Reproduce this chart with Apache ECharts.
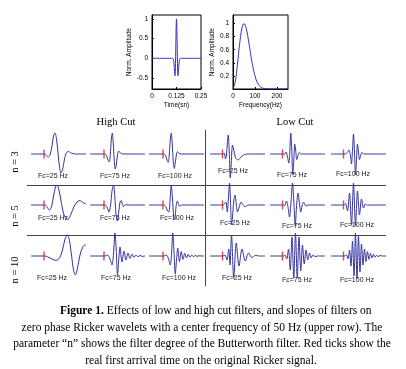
<!DOCTYPE html>
<html>
<head>
<meta charset="utf-8">
<script src="https://cdn.jsdelivr.net/npm/echarts@6/dist/echarts.min.js"></script>
<style>
html, body { margin: 0; padding: 0; background: #fff; }
#chart { width: 406px; height: 369px; }
</style>
</head>
<body>
<div id="chart"></div>
<script>
// upper row: the 50 Hz Ricker wavelet and its amplitude spectrum
var rickerTime = [0, 0.1, 0.105, 0.11, 0.1125, 0.115, 0.1172, 0.1188, 0.12, 0.1213, 0.1225, 0.1238, 0.125,
  0.1263, 0.1275, 0.1288, 0.13, 0.1312, 0.1328, 0.135, 0.1375, 0.14, 0.145, 0.15, 0.25];
var rickerAmp = [0, 0, -0.001, -0.039, -0.142, -0.333, -0.446, -0.348, -0.126, 0.231, 0.593, 0.897, 1,
  0.897, 0.593, 0.231, -0.126, -0.348, -0.446, -0.333, -0.142, -0.039, -0.001, 0, 0];
var specFreq = [0, 10, 20, 30, 40, 50, 60, 70, 80, 90, 100, 110, 120, 130, 140, 150, 170, 200, 250];
var specAmp = [0, 0.104, 0.37, 0.683, 0.917, 1, 0.927, 0.75, 0.538, 0.345, 0.199, 0.104, 0.049, 0.021, 0.008, 0.003, 0.0003, 0, 0];
var timeTicks = [0, 0.125, 0.25];
var ampTicks = [-0.5, 0, 0.5, 1];
var freqTicks = [0, 100, 200];
var specTicks = [0.2, 0.4, 0.6, 0.8, 1];

// filtered wavelets, [time ms, amplitude]; n = 3
var hc3_25 = [[0,0],[28,0],[31,-0.08],[34,-0.15],[38,-0.05],[42,0.4],[45,0.9],[48,1.05],[51,0.75],[54,0.05],[57,-0.65],[60,-0.95],[63,-0.8],[67,-0.25],[71,0.08],[75,0.12],[81,0.04],[90,0],[110,0]];
var hc3_75 = [[0,0],[30,0],[33,-0.08],[36,-0.3],[38.5,-0.4],[40.5,-0.05],[42.5,0.7],[44.5,1.05],[46.5,0.55],[48.5,-0.3],[50.5,-0.75],[52.5,-0.55],[55,-0.05],[57.5,0.15],[61,0.05],[66,0],[110,0]];
var hc3_100 = [[0,0],[30,0],[33,-0.08],[36,-0.3],[38.5,-0.42],[40.5,-0.05],[42.5,0.7],[44.5,1.05],[46.5,0.5],[48.5,-0.35],[50.5,-0.72],[52.5,-0.45],[55,0],[57,0.12],[60,0.03],[64,0],[110,0]];
var lc3_25 = [[0,0],[26,0],[28.5,0.04],[31,-0.25],[33,-0.05],[34.5,0.5],[36.5,0.95],[38.5,0.1],[40.5,-1.2],[42.5,-0.45],[45,0.45],[47.5,0.2],[51,-0.18],[56,-0.3],[62,-0.15],[69,-0.03],[76,0],[110,0]];
var lc3_75 = [[0,0],[29,0],[32,0.1],[35,-0.15],[37.5,-0.45],[39.5,0.05],[41.5,1.05],[43.5,0.2],[45.5,-1.05],[47.5,-0.35],[49.5,0.5],[51.5,0.15],[53.5,-0.28],[56,-0.08],[58.5,0.08],[62,0],[110,0]];
var lc3_100 = [[0,0],[29,0],[32.5,0.08],[36,0.2],[39,-0.1],[41,-0.5],[43,0.2],[45,1.0],[47,0.1],[49,-1.05],[51,-0.3],[53,0.5],[55,0.1],[57,-0.28],[59.5,-0.05],[62,0.08],[66,0],[110,0]];
// n = 5
var hc5_25 = [[0,0],[28,0],[32,-0.1],[37,-0.25],[41,-0.1],[45,0.45],[49,0.9],[52,1.0],[55,0.85],[59,0.35],[63,-0.2],[68,-0.6],[74,-0.72],[80,-0.45],[86,-0.08],[92,0.15],[98,0.22],[104,0.12],[110,0.05]];
var hc5_75 = [[0,0],[30,0],[34,-0.1],[38,-0.35],[41,-0.05],[44,0.7],[47,1.0],[49.5,0.45],[52,-0.45],[55,-0.8],[57.5,-0.35],[60,0.15],[62.5,0.22],[65,0.02],[67.5,-0.08],[71,0.02],[76,0],[110,0]];
var hc5_100 = [[0,0],[30,0],[34,-0.1],[37,-0.3],[39.5,-0.35],[42,0.2],[44.5,1.0],[47,0.3],[49.5,-0.6],[51.5,-0.72],[54,-0.1],[56.5,0.2],[59,0.05],[61.5,-0.06],[65,0],[110,0]];
var lc5_25 = [[0,0],[26,0],[29,0.05],[32,0.15],[34.5,-0.35],[37,0.4],[39,1.1],[41,0.2],[43,-1.0],[45,-0.6],[47.5,0.2],[50,0.5],[52.5,0.05],[55,-0.35],[58.5,-0.1],[62,0.15],[66,0.02],[70,-0.08],[76,0],[110,0]];
var lc5_75 = [[0,0],[26,0],[29,-0.04],[33,0.2],[36,-0.1],[39,-0.6],[42,0.15],[45,1.1],[48,0],[50.5,-1.05],[53,-0.1],[56,0.6],[59,0.05],[61.5,-0.35],[64,-0.05],[67,0.15],[70,0],[72.5,-0.05],[76,0],[110,0]];
var lc5_100 = [[0,0],[26,0],[29,0.08],[33,-0.3],[37,0.6],[41,-1.0],[45,1.1],[49,-1.05],[53,0.7],[57,-0.5],[61,0.3],[65,-0.15],[69,0.06],[73,-0.02],[78,0],[110,0]];
// n = 10
var hc10_25 = [[0,0],[28,0],[34,-0.05],[42,-0.15],[50,-0.22],[57,-0.1],[63,0.3],[68,0.85],[73,1.05],[77,0.75],[81,0.05],[85,-0.7],[89,-0.95],[93,-0.6],[98,0.05],[103,0.42],[108,0.55],[110,0.52]];
var hc10_75 = [[0,0],[30,0],[35,0.05],[40,-0.15],[44,-0.45],[47,0.1],[50,1.15],[52.5,0.3],[55,-0.95],[57.5,-0.2],[60,0.45],[64,-0.3],[68,0.25],[72,-0.2],[76,0.15],[80,-0.12],[84,0.09],[88,-0.07],[92,0.05],[96,-0.04],[100,0.03],[104,-0.02],[110,0]];
var hc10_100 = [[0,0],[30,0],[35,0.05],[39,-0.15],[42.5,-0.45],[45,0.1],[47.5,1.15],[50,0.2],[52.5,-0.9],[55,-0.2],[57.5,0.4],[61,-0.28],[64.5,0.22],[68,-0.17],[71.5,0.13],[75,-0.1],[78.5,0.08],[82,-0.06],[85.5,0.05],[89,-0.04],[92.5,0.03],[96,-0.02],[100,0.01],[106,0],[110,0]];
var lc10_25 = [[0,0],[26,0],[30,0.05],[34,-0.2],[37.5,0.35],[40,-0.45],[43,1.05],[47.5,-1.1],[52.5,0.65],[58,-0.5],[64,0.35],[70.5,-0.25],[77,0.15],[84,-0.08],[91,0.03],[98,0],[110,0]];
var lc10_75 = [[0,0],[27,0],[30,0.05],[33.5,-0.15],[37,0.35],[40.5,-0.7],[44,0.95],[47.5,-1.1],[51,1.15],[54.5,-1.1],[58,0.95],[61.5,-0.75],[65,0.55],[68.5,-0.4],[72,0.3],[75.5,-0.2],[79,0.15],[82.5,-0.1],[86,0.06],[90,-0.03],[95,0],[110,0]];
var lc10_100 = [[0,0],[27,0],[31,0.05],[34,-0.15],[37,0.3],[40,-0.5],[43,0.75],[46,-1.0],[49,1.15],[52,-1.15],[55,1.0],[58,-0.8],[61,0.6],[64,-0.45],[67,0.35],[70,-0.28],[73,0.22],[76,-0.17],[79,0.13],[82,-0.1],[85,0.08],[88,-0.06],[91,0.04],[94,-0.03],[98,0.02],[104,0],[110,0]];

// first arrival of the original Ricker (red ticks), per column, ms
var arrivalMs = [26, 28, 28, 25, 25, 25];
var cutoffs = ["Fc=25 Hz", "Fc=75 Hz", "Fc=100 Hz"];
var rowNames = ["n = 3", "n = 5", "n = 10"];

var waves = [
  [hc3_25, hc3_75, hc3_100, lc3_25, lc3_75, lc3_100],
  [hc5_25, hc5_75, hc5_100, lc5_25, lc5_75, lc5_100],
  [hc10_25, hc10_75, hc10_100, lc10_25, lc10_75, lc10_100]
];

// layout
var colLeft = [31, 90, 149, 210, 270, 331];
var rowBase = [154, 205, 256];
var fcPos = [
  [[53, 176], [115, 176], [175, 176], [233, 171], [292, 175], [353, 174]],
  [[53, 218], [115, 218], [177, 218], [235, 223], [297, 226], [357, 225]],
  [[52, 278], [116, 278], [179, 278], [237, 278], [297, 280], [357, 280]]
];
var rowLabelY = [162, 216, 270];

var SANS = '"Liberation Sans", Arial, sans-serif';
var SERIF = '"Liberation Serif", "Times New Roman", serif';
var WAVE = "#34349f";

var dom = document.getElementById("chart");
var myChart = echarts.init(dom);

function boxAxis(ticks, extra) {
  var ax = {
    type: "value",
    axisLine: { show: true, onZero: false, lineStyle: { color: "#000", width: 1 } },
    axisTick: { show: true, inside: true, length: 2, customValues: ticks, lineStyle: { color: "#000" } },
    axisLabel: { customValues: ticks, fontSize: 6.5, fontFamily: SANS, color: "#000", margin: 4 },
    splitLine: { show: false },
    nameLocation: "middle",
    nameTextStyle: { fontSize: 6.5, fontFamily: SANS, color: "#000" }
  };
  for (var k in extra) ax[k] = extra[k];
  return ax;
}

var grids = [
  { left: 152, top: 15, width: 49, height: 74, show: true, borderColor: "#000", borderWidth: 1 },
  { left: 233, top: 15, width: 55, height: 74, show: true, borderColor: "#000", borderWidth: 1 }
];
var xAxes = [
  boxAxis(timeTicks, { gridIndex: 0, min: 0, max: 0.25, name: "Time(sn)", nameGap: 13 }),
  boxAxis(freqTicks, { gridIndex: 1, min: 0, max: 250, name: "Frequency(Hz)", nameGap: 13 })
];
var yAxes = [
  boxAxis(ampTicks, { gridIndex: 0, min: -0.78, max: 1.1, name: "Norm. Amplitude", nameGap: 16 }),
  boxAxis(specTicks, { gridIndex: 1, min: 0, max: 1.13, name: "Norm. Amplitude", nameGap: 17 })
];
var series = [
  {
    type: "line", xAxisIndex: 0, yAxisIndex: 0, showSymbol: false, smooth: 0.3,
    data: rickerTime.map(function (t, i) { return [t, rickerAmp[i]]; }),
    lineStyle: { color: "#3636c0", width: 1 }
  },
  {
    type: "line", xAxisIndex: 1, yAxisIndex: 1, showSymbol: false, smooth: 0.4,
    data: specFreq.map(function (f, i) { return [f, specAmp[i]]; }),
    lineStyle: { color: "#3636c0", width: 1 }
  }
];

var graphics = [];
for (var r = 0; r < 3; r++) {
  for (var c = 0; c < 6; c++) {
    var gi = grids.length;
    grids.push({ left: colLeft[c], top: rowBase[r] - 30, width: 55, height: 60 });
    xAxes.push({ gridIndex: gi, type: "value", min: 0, max: 110, show: false });
    yAxes.push({ gridIndex: gi, type: "value", min: -1.5, max: 1.5, show: false });
    series.push({
      type: "line", xAxisIndex: gi, yAxisIndex: gi, showSymbol: false, smooth: 0.3,
      data: waves[r][c], lineStyle: { color: WAVE, width: 1 }
    });
    series.push({
      type: "scatter", xAxisIndex: gi, yAxisIndex: gi, symbol: "rect", symbolSize: [1.4, 9],
      data: [[arrivalMs[c], 0]], itemStyle: { color: "#cc2020" }, z: 3
    });
    graphics.push({
      type: "text", x: fcPos[r][c][0], y: fcPos[r][c][1],
      style: { text: cutoffs[c % 3], fontSize: 7, fontFamily: SANS, fill: "#222", align: "center", verticalAlign: "middle" }
    });
  }
  graphics.push({
    type: "text", x: 15.5, y: rowLabelY[r], rotation: Math.PI / 2,
    style: { text: rowNames[r], fontSize: 10.5, fontFamily: SERIF, fill: "#000", align: "center", verticalAlign: "middle" }
  });
}

graphics.push(
  { type: "text", x: 116, y: 122, style: { text: "High Cut", fontSize: 10.5, fontFamily: SERIF, fill: "#000", align: "center", verticalAlign: "middle" } },
  { type: "text", x: 295, y: 122, style: { text: "Low Cut", fontSize: 10.5, fontFamily: SERIF, fill: "#000", align: "center", verticalAlign: "middle" } },
  { type: "line", shape: { x1: 205.5, y1: 130, x2: 205.5, y2: 286 }, style: { stroke: "#444", lineWidth: 1 } },
  { type: "line", shape: { x1: 27, y1: 185.5, x2: 386, y2: 185.5 }, style: { stroke: "#444", lineWidth: 1 } },
  { type: "line", shape: { x1: 27, y1: 235.5, x2: 386, y2: 235.5 }, style: { stroke: "#444", lineWidth: 1 } },
  {
    type: "text", x: 60, y: 311,
    style: {
      text: "{b|Figure 1.} Effects of low and high cut filters, and slopes of filters on",
      rich: { b: { fontWeight: "bold", fontSize: 11.5, fontFamily: SERIF } },
      fontSize: 11.5, fontFamily: SERIF, fill: "#000", align: "left", verticalAlign: "middle"
    }
  },
  { type: "text", x: 202, y: 327.5, style: { text: "zero phase Ricker wavelets with a center frequency of 50 Hz (upper row). The", fontSize: 11.5, fontFamily: SERIF, fill: "#000", align: "center", verticalAlign: "middle" } },
  { type: "text", x: 202, y: 344, style: { text: "parameter \u201cn\u201d shows the filter degree of the Butterworth filter. Red ticks show the", fontSize: 11.5, fontFamily: SERIF, fill: "#000", align: "center", verticalAlign: "middle" } },
  { type: "text", x: 201, y: 360.5, style: { text: "real first arrival time on the original Ricker signal.", fontSize: 11.5, fontFamily: SERIF, fill: "#000", align: "center", verticalAlign: "middle" } }
);

var option = {
  animation: false,
  backgroundColor: "#fff",
  grid: grids,
  xAxis: xAxes,
  yAxis: yAxes,
  series: series,
  graphic: graphics
};
myChart.setOption(option);
</script>
</body>
</html>
